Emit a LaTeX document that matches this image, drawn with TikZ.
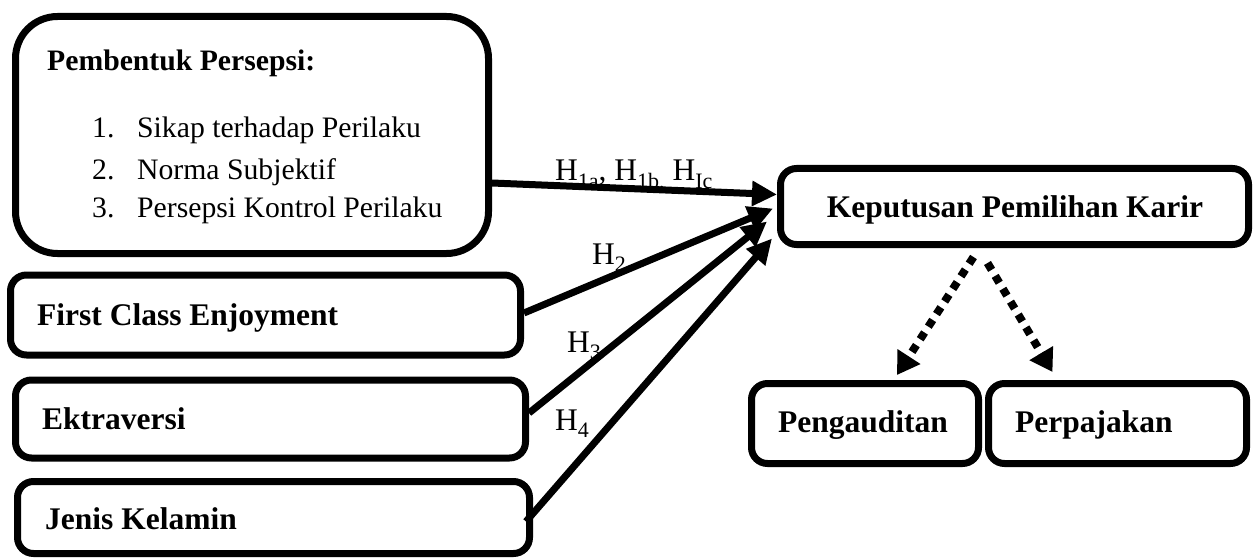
\documentclass[tikz,border=0pt]{standalone}
\usepackage{fontspec}
\setmainfont{Liberation Serif}
\usetikzlibrary{arrows.meta}
% small lowered text for the hypothesis indices
\newcommand\sbs[1]{\raisebox{-0.24em}{\fontsize{22}{22}\selectfont #1}}
\begin{document}
\begin{tikzpicture}[x=1pt,y=-1pt,
  box/.style={draw,line width=7pt,rounded corners=16pt,inner sep=0pt},
  txt/.style={anchor=base west,inner sep=0pt,font=\fontsize{31.5}{38}\selectfont},
  btxt/.style={anchor=base west,inner sep=0pt,font=\fontsize{31.5}{38}\selectfont\bfseries},
  stxt/.style={anchor=base west,inner sep=0pt,font=\fontsize{29.7}{36}\selectfont},
  arr/.style={line width=7pt,-{Triangle[length=25pt,width=24pt]}},
  dotarr/.style={line width=8pt,dash pattern=on 8pt off 7pt,-{Triangle[length=22pt,width=26pt]}}]
\fill[white] (0,0) rectangle (1259,559);
\useasboundingbox (0,0) rectangle (1259,559);

% independent variables
\node[box,minimum width=473pt,minimum height=237pt,rounded corners=42pt] (b1) at (252,135) {};
\node[box,minimum width=510pt,minimum height=80pt] (b2) at (265.5,315) {};
\node[box,minimum width=510pt,minimum height=78pt] (b3) at (270.5,419) {};
\node[box,minimum width=512pt,minimum height=72pt] (b4) at (273.5,517.5) {};

% dependent variable and its two branches
\node[box,minimum width=468pt,minimum height=76pt] (k) at (1014.5,206.5) {};
\node[box,minimum width=227pt,minimum height=80pt] (p1) at (865,423.5) {};
\node[box,minimum width=258pt,minimum height=80pt] (p2) at (1117.5,423.5) {};

% texts
\node[stxt,font=\fontsize{29.7}{36}\selectfont\bfseries] (t0) at (47,71) {Pembentuk Persepsi:};
\node[stxt] (n1) at (92,138) {1.};
\node[stxt] (l1) at (137,138) {Sikap terhadap Perilaku};
\node[stxt] (n2) at (92,179) {2.};
\node[stxt] (l2) at (137,179) {Norma Subjektif};
\node[stxt] (n3) at (92,218) {3.};
\node[stxt] (l3) at (137,218) {Persepsi Kontrol Perilaku};
\node[btxt] (t2) at (37,325) {First Class Enjoyment};
\node[btxt] (t3) at (42,429) {Ektraversi};
\node[btxt] (t4) at (45,529) {Jenis Kelamin};
\node[btxt,anchor=base] (tk) at (1015,217) {Keputusan Pemilihan Karir};
\node[btxt] (tp1) at (778,432) {Pengauditan};
\node[btxt] (tp2) at (1015,432) {Perpajakan};

% hypothesis labels
\node[txt] (h1) at (555,181) {H\sbs{1a}, H\sbs{1b,} H\sbs{Ic}};
\node[txt] (h2) at (592,264) {H\sbs{2}};
\node[txt] (h3) at (567,352) {H\sbs{3}};
\node[txt] (h4) at (555,430) {H\sbs{4}};

% hypothesised effects
\draw[arr] ([yshift=-48pt]b1.east) -- ([yshift=12pt]k.west);
\draw[arr] ([yshift=2pt]b2.east) -- ([xshift=-4pt,yshift=-2pt]k.west);
\draw[arr] ([yshift=6pt]b3.east) -- ([xshift=-10pt,yshift=-15pt]k.west);
\draw[arr] ([xshift=-7pt,yshift=-4pt]b4.east) -- ([xshift=-5pt,yshift=-32pt]k.west);

% career branches
\draw[dotarr] ([xshift=-41pt,yshift=-9pt]k.south) -- ([xshift=32pt,yshift=5pt]p1.north);
\draw[dotarr] ([xshift=-27pt,yshift=-15pt]k.south) -- ([xshift=-65pt,yshift=8pt]p2.north);
\end{tikzpicture}
\end{document}
